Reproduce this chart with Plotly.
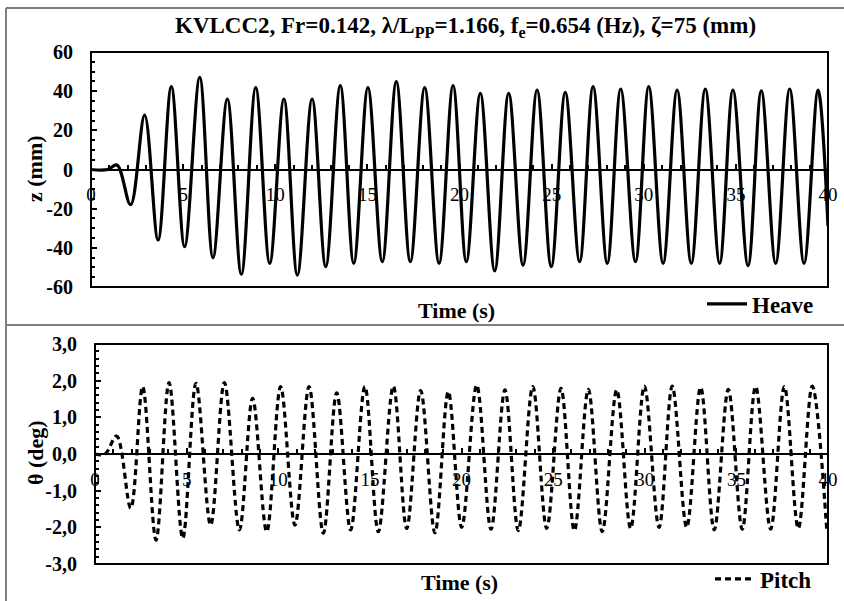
import plotly.graph_objects as go

# ---------------- data ----------------
heave_t = [0, 0.9, 1.41, 2.15, 2.91, 3.64, 4.36, 5.08, 5.9, 6.62, 7.4, 8.16, 8.94, 9.70,
           10.47, 11.2, 12.0, 12.74, 13.53, 14.26, 15.03, 15.81, 16.57, 17.33, 18.11, 18.89,
           19.65, 20.37, 21.13, 21.91, 22.67, 23.45, 24.21, 24.98, 25.74, 26.52, 27.25, 28.02,
           28.75, 29.55, 30.27, 31.05, 31.81, 32.58, 33.34, 34.12, 34.84, 35.66, 36.38, 37.16,
           37.92, 38.70, 39.46, 40.0]
heave_z = [0, 0, 2.3, -18, 27.8, -36, 42.3, -39.4, 47, -45, 36, -53.5, 41.8, -47.9,
           36, -53.9, 36, -49.6, 42.8, -47.9, 41.8, -47.1, 44.9, -47.1, 41.8, -47.9,
           42.8, -47.1, 38.9, -51.8, 38.9, -48.8, 40.6, -49.6, 39.4, -47.1, 42.3, -47.9,
           41.1, -47.1, 42.3, -47.9, 40.6, -47.9, 41.1, -47.9, 40.6, -49.1, 40.1, -47.9,
           41.1, -47.9, 40.6, -29]

pitch_t = [0, 0.55, 1.18, 1.95, 2.6, 3.33, 4.04, 4.79, 5.51, 6.31, 7.06, 7.88, 8.6, 9.37,
           10.13, 10.91, 11.68, 12.46, 13.19, 13.95, 14.73, 15.46, 16.28, 17.01, 17.77, 18.55,
           19.28, 20.01, 20.83, 21.61, 22.37, 23.1, 23.89, 24.65, 25.43, 26.16, 26.92, 27.68,
           28.47, 29.23, 29.98, 30.78, 31.5, 32.29, 33.05, 33.79, 34.56, 35.32, 36.05, 36.87,
           37.62, 38.38, 39.14, 39.93]
pitch_deg = [0, 0, 0.49, -1.48, 1.84, -2.35, 1.95, -2.30, 1.93, -1.94, 1.95, -2.07, 1.52, -2.12,
             1.84, -1.94, 1.84, -2.16, 1.67, -2.07, 1.84, -2.12, 1.85, -2.03, 1.73, -2.15,
             1.70, -2.0, 1.88, -2.05, 1.75, -2.09, 1.84, -2.03, 1.79, -2.09, 1.76, -2.12,
             1.75, -2.03, 1.85, -2.0, 1.85, -2.0, 1.82, -2.07, 1.76, -2.05, 1.84, -2.05,
             1.84, -2.03, 1.85, -2.07]

time_ticks = [0, 5, 10, 15, 20, 25, 30, 35, 40]
heave_ticks = [60, 40, 20, 0, -20, -40, -60]
heave_ticklabels = ["60", "40", "20", "0", "-20", "-40", "-60"]
pitch_ticks = [3, 2, 1, 0, -1, -2, -3]
pitch_ticklabels = ["3,0", "2,0", "1,0", "0,0", "-1,0", "-2,0", "-3,0"]

title_text = ("KVLCC2, Fr=0.142, λ/L<sub>PP</sub>=1.166, f<sub>e</sub>=0.654 (Hz), "
              "ζ=75 (mm)")

# ---------------- layout geometry ----------------
W, H = 844, 601
SERIF = "Liberation Serif"

def px_x(p):
    return p / W

def px_y(p):
    return 1 - p / H

top_dom_x = [px_x(91), px_x(828)]
top_dom_y = [px_y(287), px_y(52)]
bot_dom_x = [px_x(95), px_x(828)]
bot_dom_y = [px_y(564), px_y(344)]

fig = go.Figure()

fig.add_trace(go.Scatter(
    x=heave_t, y=heave_z, mode="lines", name="Heave",
    line=dict(color="black", width=3.2, shape="spline", smoothing=1.0),
    xaxis="x", yaxis="y", legend="legend"))

fig.add_trace(go.Scatter(
    x=pitch_t, y=pitch_deg, mode="lines", name="Pitch",
    line=dict(color="black", width=3.2, dash="6px,4px", shape="spline", smoothing=1.0),
    xaxis="x2", yaxis="y2", legend="legend2"))

xtick_font = dict(family=SERIF, size=19, color="black")
ytick_font = dict(family=SERIF, size=20, color="black", weight="bold")

def xaxis_cfg(dom, zero_pos):
    return dict(
        domain=dom, range=[0, 40], anchor="free", position=zero_pos,
        automargin=False,
        showline=True, linecolor="black", linewidth=2,
        showgrid=False, zeroline=False,
        tickmode="array", tickvals=time_ticks,
        ticks="inside", ticklen=5, tickwidth=1.5, tickcolor="black",
        minor=dict(dtick=1, ticks="inside", ticklen=4, tickwidth=1.5, tickcolor="black"),
        tickfont=xtick_font, ticklabelstandoff=8,
        fixedrange=True,
    )

def yaxis_cfg(dom, rng, anchor, vals, text, minor_dt):
    return dict(
        domain=dom, range=rng, anchor=anchor, automargin=False,
        showline=False, showgrid=False, zeroline=False,
        tickmode="array", tickvals=vals, ticktext=text,
        ticks="inside", ticklen=6, tickwidth=1.5, tickcolor="black",
        minor=dict(dtick=minor_dt, ticks="inside", ticklen=4, tickwidth=1.5,
                   tickcolor="black"),
        tickfont=ytick_font, ticklabelstandoff=17, fixedrange=True,
    )

legend_font = dict(family=SERIF, size=23, color="black", weight="bold")

fig.update_layout(
    width=W, height=H, autosize=False,
    margin=dict(l=0, r=0, t=0, b=0, autoexpand=False),
    paper_bgcolor="white", plot_bgcolor="white",
    xaxis=xaxis_cfg(top_dom_x, (top_dom_y[0] + top_dom_y[1]) / 2),
    xaxis2=xaxis_cfg(bot_dom_x, (bot_dom_y[0] + bot_dom_y[1]) / 2),
    yaxis=yaxis_cfg(top_dom_y, [-60, 60], "x", heave_ticks, heave_ticklabels, 5),
    yaxis2=yaxis_cfg(bot_dom_y, [-3, 3], "x2", pitch_ticks, pitch_ticklabels, 0.2),
    legend=dict(
        x=px_x(702), y=px_y(304), xanchor="left", yanchor="middle",
        bgcolor="rgba(0,0,0,0)", borderwidth=0, itemwidth=40,
        font=legend_font,
    ),
    legend2=dict(
        x=px_x(710), y=px_y(579), xanchor="left", yanchor="middle",
        bgcolor="rgba(0,0,0,0)", borderwidth=0, itemwidth=40,
        font=legend_font,
    ),
    showlegend=True,
)

# plot frames
for xr, yr in (("x domain", "y domain"), ("x2 domain", "y2 domain")):
    fig.add_shape(type="rect", xref=xr, yref=yr, x0=0, x1=1, y0=0, y1=1,
                  line=dict(color="black", width=2), layer="above")

# outer figure frame (gray)
gray = "#7f7f7f"
fig.add_shape(type="line", xref="paper", yref="paper", x0=px_x(6), x1=px_x(6),
              y0=0, y1=px_y(8), line=dict(color=gray, width=2))
fig.add_shape(type="line", xref="paper", yref="paper", x0=px_x(6), x1=1,
              y0=px_y(8), y1=px_y(8), line=dict(color=gray, width=2))
fig.add_shape(type="line", xref="paper", yref="paper", x0=px_x(6), x1=1,
              y0=px_y(325), y1=px_y(325), line=dict(color=gray, width=2))

bold22 = dict(family=SERIF, size=22, color="black", weight="bold")
ann = [
    dict(text=title_text, x=px_x(465), y=px_y(27), font=dict(family=SERIF, size=23,
         color="black", weight="bold")),
    dict(text="Time (s)", x=px_x(457), y=px_y(310), font=bold22),
    dict(text="Time (s)", x=px_x(459), y=px_y(582), font=bold22),
    dict(text="z (mm)", x=px_x(35), y=px_y(169), font=bold22, textangle=-90),
    dict(text="θ (deg)", x=px_x(35), y=px_y(453), font=bold22, textangle=-90),
]
for a in ann:
    fig.add_annotation(xref="paper", yref="paper", xanchor="center", yanchor="middle",
                       showarrow=False, **a)

fig.write_html("out.html")
